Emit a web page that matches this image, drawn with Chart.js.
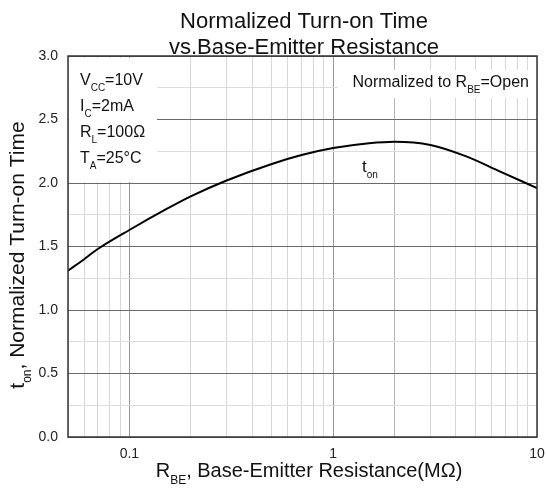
<!DOCTYPE html>
<html>
<head>
<meta charset="utf-8">
<script src="https://cdn.jsdelivr.net/npm/chart.js@4/dist/chart.umd.min.js"></script>
<style>
  html, body { margin: 0; padding: 0; background: #fff; }
  #wrap { width: 546px; height: 491px; position: relative; }
</style>
</head>
<body>
<div id="wrap"><canvas id="chart"></canvas></div>
<script>
// values
const rbe = [0.05, 0.06, 0.07, 0.1, 0.15, 0.2, 0.3, 0.5, 0.7, 1.0, 1.5, 2.0, 3.0, 4.5, 6.6, 10];
const ton = [1.31, 1.40, 1.48, 1.63, 1.79, 1.895, 2.02, 2.15, 2.22, 2.275, 2.313, 2.325, 2.30, 2.21, 2.09, 1.96];

const xTicks = [0.05, 0.06, 0.07, 0.08, 0.09, 0.1, 0.2, 0.3, 0.4, 0.5, 0.6, 0.7, 0.8, 0.9,
  1, 2, 3, 4, 5, 6, 7, 8, 9, 10];
const xLabels = [0.1, 1, 10];
const conditions = [
  [["V", "n"], ["CC", "s"], ["=10V", "n"]],
  [["I", "n"], ["C", "s"], ["=2mA", "n"]],
  [["R", "n"], ["L", "s"], ["=100\u03A9", "n"]],
  [["T", "n"], ["A", "s"], ["=25\u00B0C", "n"]],
];

const FONT = "Arial, 'Liberation Sans', sans-serif";

function drawSub(ctx, parts, x, y, size, subSize, align) {
  let total = 0;
  parts.forEach(([t, k]) => {
    ctx.font = (k === "s" ? subSize : size) + "px " + FONT;
    total += ctx.measureText(t).width;
  });
  let cx = align === "right" ? x - total : align === "center" ? x - total / 2 : x;
  ctx.textAlign = "left";
  ctx.textBaseline = "alphabetic";
  parts.forEach(([t, k]) => {
    ctx.font = (k === "s" ? subSize : size) + "px " + FONT;
    ctx.fillText(t, cx, k === "s" ? y + size * 0.35 : y);
    cx += ctx.measureText(t).width;
  });
}

const decor = {
  id: "decor",
  beforeDatasetsDraw(chart) {
    const ctx = chart.ctx;
    ctx.save();
    ctx.fillStyle = "#fff";
    ctx.fillRect(69, 58, 88, 124);
    ctx.fillRect(338, 70, 198, 28);
    ctx.restore();
  },
  afterDraw(chart) {
    const ctx = chart.ctx;
    const a = chart.chartArea;
    ctx.save();
    ctx.strokeStyle = "#333";
    ctx.lineWidth = 1.5;
    ctx.strokeRect(a.left, a.top, a.right - a.left, a.bottom - a.top);

    ctx.fillStyle = "#111";
    ctx.textAlign = "center";
    ctx.font = "22px " + FONT;
    ctx.fillText("Normalized Turn-on Time", 304, 28);
    ctx.fillText("vs.Base-Emitter Resistance", 304, 54);

    conditions.forEach((p, i) => drawSub(ctx, p, 80, 85 + i * 26, 16, 10, "left"));
    drawSub(ctx, [["Normalized to R", "n"], ["BE", "s"], ["=Open", "n"]], 529, 87, 16, 10, "right");
    drawSub(ctx, [["t", "n"], ["on", "s"]], 362, 172, 17, 10, "left");

    drawSub(ctx, [["R", "n"], ["BE", "s"], [", Base-Emitter Resistance(M\u03A9)", "n"]], 309, 477, 20, 12, "center");

    ctx.translate(24, 255);
    ctx.rotate(-Math.PI / 2);
    drawSub(ctx, [["t", "n"], ["on", "s"], [", Normalized Turn-on Time", "n"]], 0, 0, 21, 12, "center");
    ctx.restore();
  },
};

new Chart(document.getElementById("chart"), {
  type: "line",
  data: {
    datasets: [{
      data: rbe.map((x, i) => ({ x: x, y: ton[i] })),
      borderColor: "#000",
      borderWidth: 2,
      pointRadius: 0,
      cubicInterpolationMode: "monotone",
      fill: false,
    }],
  },
  options: {
    responsive: true,
    maintainAspectRatio: false,
    animation: false,
    layout: { padding: { top: 56, right: 9, left: 0, bottom: 0 } },
    plugins: { legend: { display: false }, title: { display: false }, tooltip: { enabled: false } },
    scales: {
      x: {
        type: "logarithmic",
        min: 0.05,
        max: 10,
        afterBuildTicks: (scale) => { scale.ticks = xTicks.map((v) => ({ value: v })); },
        afterFit: (scale) => {
          scale.height = 54;
          scale.paddingLeft = 0;
          scale.paddingRight = 0;
        },
        ticks: {
          autoSkip: false,
          maxRotation: 0,
          padding: 9,
          color: "#222",
          font: { family: FONT, size: 14 },
          callback: (v) => (xLabels.includes(v) ? String(v) : ""),
        },
        grid: {
          drawTicks: false,
          color: (c) => {
            const v = c.tick ? c.tick.value : 0;
            if (v === 0.1 || v === 1) return "#999";
            if (v === 2) return "#b4b4b4";
            return "#d6d6d6";
          },
        },
        border: { display: false },
      },
      y: {
        min: 0,
        max: 3,
        afterFit: (scale) => { scale.width = 68; },
        ticks: {
          stepSize: 0.25,
          padding: 10,
          color: "#222",
          font: { family: FONT, size: 14 },
          callback: (v) => (Math.abs(v * 2 - Math.round(v * 2)) < 1e-6 ? v.toFixed(1) : ""),
        },
        grid: {
          drawTicks: false,
          color: (c) => {
            const v = c.tick ? c.tick.value : 0;
            return Math.abs(v * 2 - Math.round(v * 2)) < 1e-6 ? "#6a6a6a" : "#dcdcdc";
          },
        },
        border: { display: false },
      },
    },
  },
  plugins: [decor],
});
</script>
</body>
</html>
